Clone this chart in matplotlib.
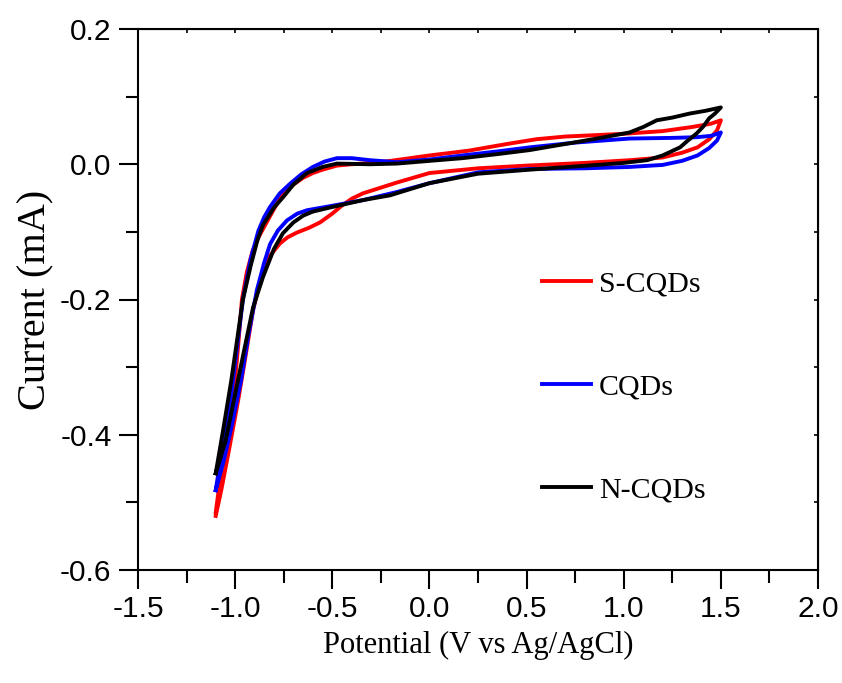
import matplotlib
matplotlib.use("Agg")
import matplotlib.pyplot as plt
from matplotlib.ticker import MultipleLocator

# S-CQDs: anodic (upper) branch then cathodic (lower) branch
s_up_v = [-1.1, -1.07, -1.04, -1.01, -0.985, -0.965, -0.94, -0.91, -0.88, -0.857, -0.80,
          -0.77, -0.73, -0.70, -0.65, -0.60, -0.55, -0.476, -0.4, -0.3, -0.2, 0.0, 0.2, 0.4,
          0.55, 0.7, 0.85, 1.0, 1.2, 1.35, 1.45, 1.5]
s_up_i = [-0.515, -0.45, -0.40, -0.35, -0.27, -0.20, -0.16, -0.128, -0.108, -0.096, -0.066,
          -0.051, -0.038, -0.030, -0.020, -0.013, -0.008, -0.002, 0.0, 0.002, 0.005, 0.013,
          0.020, 0.030, 0.037, 0.041, 0.043, 0.045, 0.049, 0.055, 0.060, 0.065]
s_dn_v = [1.5, 1.48, 1.44, 1.38, 1.3, 1.2, 1.03, 0.8, 0.5, 0.25, 0.0, -0.167, -0.342, -0.40,
          -0.45, -0.50, -0.563, -0.62, -0.682, -0.73, -0.769, -0.82, -0.857, -0.908, -0.95,
          -0.985, -1.03, -1.07, -1.1]
s_dn_i = [0.065, 0.050, 0.037, 0.025, 0.017, 0.010, 0.006, 0.002, -0.002, -0.006, -0.013,
          -0.027, -0.043, -0.051, -0.061, -0.073, -0.086, -0.094, -0.101, -0.108, -0.117,
          -0.135, -0.157, -0.216, -0.29, -0.35, -0.42, -0.48, -0.52]

# CQDs
c_up_v = [-1.1, -1.06, -1.02, -0.99, -0.96, -0.92, -0.88, -0.85, -0.82, -0.77, -0.718, -0.66,
          -0.6, -0.54, -0.476, -0.40, -0.306, -0.167, 0.0, 0.17, 0.35, 0.517, 0.75, 1.03,
          1.25, 1.377, 1.45, 1.5]
c_up_i = [-0.482, -0.41, -0.34, -0.27, -0.20, -0.14, -0.098, -0.078, -0.063, -0.043, -0.029,
          -0.015, -0.004, 0.004, 0.009, 0.009, 0.006, 0.003, 0.007, 0.013, 0.019, 0.025, 0.032,
          0.038, 0.039, 0.040, 0.042, 0.047]
c_dn_v = [1.5, 1.48, 1.44, 1.38, 1.3, 1.2, 1.03, 0.8, 0.517, 0.25, 0.0, -0.167, -0.342,
          -0.512, -0.63, -0.68, -0.733, -0.78, -0.82, -0.85, -0.888, -0.93, -0.97, -1.02,
          -1.06, -1.1]
c_dn_i = [0.047, 0.035, 0.024, 0.013, 0.005, -0.001, -0.004, -0.006, -0.007, -0.012, -0.028,
          -0.041, -0.053, -0.062, -0.068, -0.073, -0.083, -0.098, -0.118, -0.145, -0.186,
          -0.25, -0.32, -0.39, -0.44, -0.482]

# N-CQDs
n_up_v = [-1.1, -1.06, -1.02, -0.99, -0.96, -0.92, -0.885, -0.857, -0.80, -0.754, -0.70,
          -0.63, -0.55, -0.476, -0.306, -0.167, 0.0, 0.17, 0.35, 0.517, 0.7, 0.862, 1.03,
          1.10, 1.17, 1.25, 1.34, 1.42, 1.5]
n_up_i = [-0.457, -0.39, -0.32, -0.26, -0.20, -0.15, -0.112, -0.090, -0.064, -0.049, -0.030,
          -0.013, -0.004, 0.001, 0.0, 0.001, 0.005, 0.009, 0.015, 0.021, 0.030, 0.038, 0.047,
          0.055, 0.065, 0.069, 0.075, 0.079, 0.084]
n_dn_v = [1.5, 1.47, 1.44, 1.41, 1.377, 1.33, 1.29, 1.2, 1.12, 1.0, 0.862, 0.517, 0.25, 0.0,
          -0.203, -0.342, -0.512, -0.60, -0.65, -0.70, -0.754, -0.80, -0.857, -0.908, -0.95,
          -1.0, -1.05, -1.1]
n_dn_i = [0.084, 0.075, 0.068, 0.056, 0.046, 0.035, 0.025, 0.013, 0.006, 0.002, -0.001,
          -0.008, -0.014, -0.028, -0.046, -0.053, -0.064, -0.070, -0.076, -0.086, -0.102,
          -0.125, -0.167, -0.212, -0.27, -0.34, -0.41, -0.457]

labels = ["S-CQDs", "CQDs", "N-CQDs"]
colors = ["#ff0000", "#0000ff", "#000000"]

tick_font = ["Liberation Sans", "DejaVu Sans"]
label_font = ["Liberation Serif", "DejaVu Serif"]

fig = plt.figure(figsize=(8.42, 6.83), dpi=100)
ax = fig.add_axes([138 / 842, 1 - 570 / 683, 680 / 842, 541 / 683])

curves = [(s_up_v + s_dn_v, s_up_i + s_dn_i),
          (c_up_v + c_dn_v, c_up_i + c_dn_i),
          (n_up_v + n_dn_v, n_up_i + n_dn_i)]
for (v, i), lab, col in zip(curves, labels, colors):
    ax.plot(v, i, color=col, lw=2.8, label=lab, solid_joinstyle="round")

ax.set_xlim(-1.5, 2.0)
ax.set_ylim(-0.6, 0.2)
ax.xaxis.set_major_locator(MultipleLocator(0.5))
ax.xaxis.set_minor_locator(MultipleLocator(0.25))
ax.yaxis.set_major_locator(MultipleLocator(0.2))
ax.yaxis.set_minor_locator(MultipleLocator(0.1))
ax.xaxis.set_major_formatter(plt.FormatStrFormatter("%.1f"))
ax.yaxis.set_major_formatter(plt.FormatStrFormatter("%.1f"))

for sp in ax.spines.values():
    sp.set_linewidth(1.5)
ax.tick_params(which="both", direction="out", width=1.5, bottom=True, left=True,
               top=False, right=False)
ax.tick_params(which="major", length=14)
ax.tick_params(which="minor", length=9)
for lab in ax.get_xticklabels() + ax.get_yticklabels():
    lab.set_family(tick_font)
    lab.set_fontsize(21.5)
ax.tick_params(axis="x", pad=4)
ax.tick_params(axis="y", pad=5)

# small inward ticks mirrored on top and right
top = ax.secondary_xaxis("top")
top.xaxis.set_major_locator(MultipleLocator(0.25))
top.tick_params(direction="in", length=3, width=1.2, labeltop=False)
right = ax.secondary_yaxis("right")
right.yaxis.set_major_locator(MultipleLocator(0.1))
right.tick_params(direction="in", length=3, width=1.2, labelright=False)

ax.set_xlabel("Potential (V vs Ag/AgCl)", family=label_font, fontsize=22, labelpad=6)
ax.set_ylabel("Current (mA)", family=label_font, fontsize=29, labelpad=4)

ax.legend(loc="upper left", bbox_to_anchor=(0.555, 0.604), frameon=False,
          prop={"family": label_font, "size": 21.5}, handlelength=1.64,
          handletextpad=0.25, labelspacing=2.56)

fig.savefig("out.png", dpi=100)
